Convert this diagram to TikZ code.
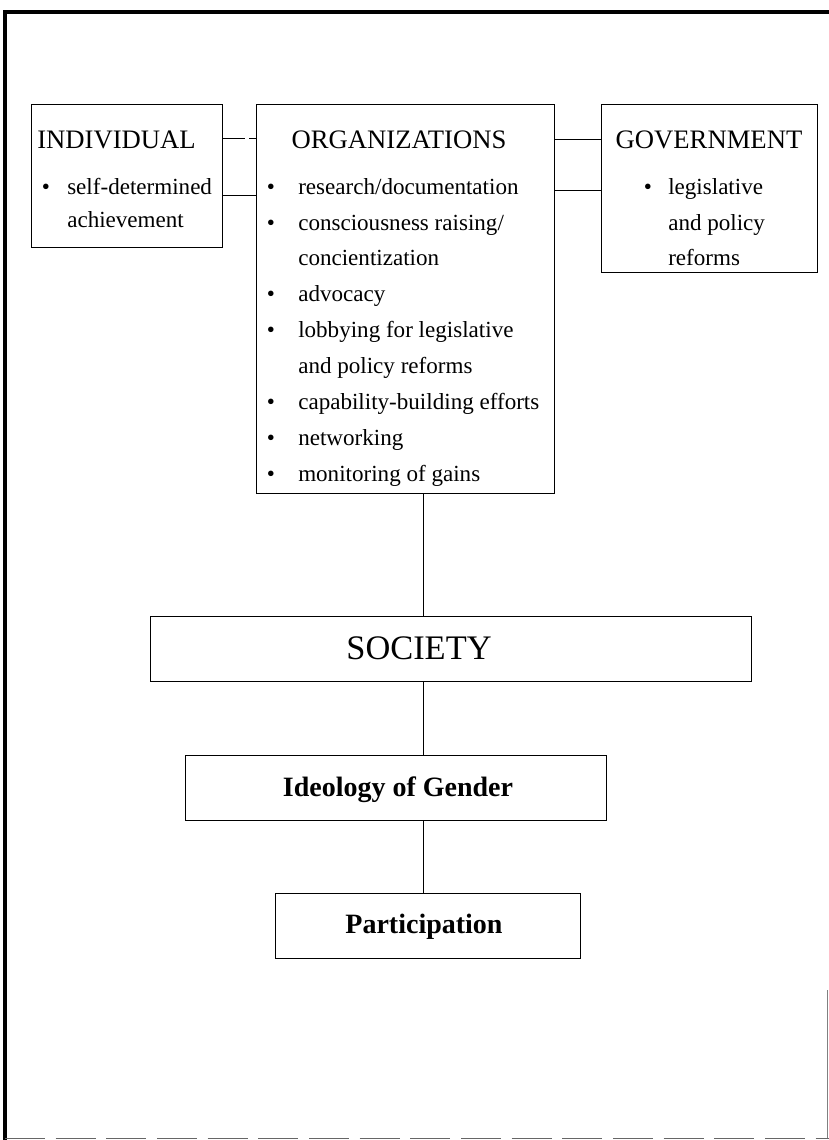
\documentclass[tikz,border=0pt]{standalone}
\usepackage{fontspec}
\setmainfont{Liberation Serif}
\usetikzlibrary{fit}
\begin{document}
\begin{tikzpicture}[x=0.75pt,y=-0.75pt,
  box/.style={draw, line width=0.75pt, inner sep=0pt},
  link/.style={line width=0.75pt},
  head/.style={font=\fontsize{20}{22}\selectfont, inner sep=0pt},
  body/.style={font=\fontsize{17.3}{20}\selectfont, inner sep=0pt, anchor=mid west},
  bul/.style={font=\fontsize{17.3}{20}\selectfont, inner sep=0pt, anchor=mid},
  big/.style={font=\fontsize{25.8}{28}\selectfont, inner sep=0pt},
  mid/.style={font=\bfseries\fontsize{21}{24}\selectfont, inner sep=0pt}]
\useasboundingbox (0,0) rectangle (829,1140);
% frame
\draw[line width=3pt] (5,1140) -- (5,12) -- (829,12);
\draw[line width=0.6pt, black!60, dash pattern=on 30pt off 8pt] (5,1138) -- (829,1138);
\draw[line width=0.5pt, black!50] (827.5,990) -- (827.5,1138);
% boxes
\node[box, fit={(31,104) (222,247)}] (ind) {};
\node[box, fit={(256,104) (554,493)}] (org) {};
\node[box, fit={(601,104) (817,272)}] (gov) {};
\node[box, fit={(150,616) (751,681)}] (soc) {};
\node[box, fit={(185,755) (606,820)}] (ideo) {};
\node[box, fit={(275,893) (580,958)}] (part) {};
% connectors
\coordinate (gapa) at (245,138);
\coordinate (gapb) at (249,138);
\draw[link] (ind.east |- gapa) -- (gapa);
\draw[link] (gapb) -- (org.west |- gapb);
\draw[link] (ind.east |- 0,195) -- (org.west |- 0,195);
\draw[link] (org.east |- 0,139) -- (gov.west |- 0,139);
\draw[link] (org.east |- 0,190) -- (gov.west |- 0,190);
\draw[link] (org.south -| 423,0) -- (soc.north -| 423,0);
\draw[link] (soc.south -| 423,0) -- (ideo.north -| 423,0);
\draw[link] (ideo.south -| 423,0) -- (part.north -| 423,0);
% INDIVIDUAL
\node[head, anchor=mid west] (indh) at (37,145) {INDIVIDUAL};
\node[bul] (indb1) at (46,191) {\textbullet};
\node[body] (ind1) at (67,191) {self-determined};
\node[body] (ind2) at (67,224) {achievement};
% ORGANIZATIONS
\node[head, anchor=mid] (orgh) at (399,145) {ORGANIZATIONS};
\node[bul] (ob1) at (271,191) {\textbullet};
\node[body] (o1) at (298,191) {research/documentation};
\node[bul] (ob2) at (271,227) {\textbullet};
\node[body] (o2) at (298,227) {consciousness raising/};
\node[body] (o3) at (298,262) {concientization};
\node[bul] (ob4) at (271,298) {\textbullet};
\node[body] (o4) at (298,298) {advocacy};
\node[bul] (ob5) at (271,334) {\textbullet};
\node[body] (o5) at (298,334) {lobbying for legislative};
\node[body] (o6) at (298,370) {and policy reforms};
\node[bul] (ob7) at (271,406) {\textbullet};
\node[body] (o7) at (298,406) {capability-building efforts};
\node[bul] (ob8) at (271,442) {\textbullet};
\node[body] (o8) at (298,442) {networking};
\node[bul] (ob9) at (271,478) {\textbullet};
\node[body] (o9) at (298,478) {monitoring of gains};
% GOVERNMENT
\node[head, anchor=mid] (govh) at (709,145) {GOVERNMENT};
\node[bul] (gb1) at (648,191) {\textbullet};
\node[body] (g1) at (668,191) {legislative};
\node[body] (g2) at (668,227) {and policy};
\node[body] (g3) at (668,262) {reforms};
% lower boxes
\node[big, anchor=mid] (soct) at (419,656) {SOCIETY};
\node[mid, anchor=mid] (ideot) at (398,793) {Ideology of Gender};
\node[mid, anchor=mid] (partt) at (424,930) {Participation};
\end{tikzpicture}
\end{document}
